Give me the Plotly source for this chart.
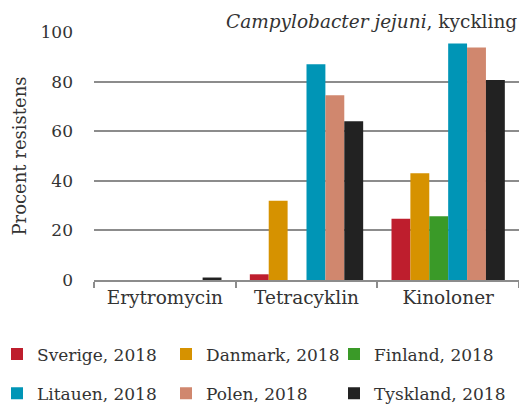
import plotly.graph_objects as go

categories = ["Erytromycin", "Tetracyklin", "Kinoloner"]
series_names = ["Sverige, 2018", "Danmark, 2018", "Finland, 2018",
                "Litauen, 2018", "Polen, 2018", "Tyskland, 2018"]
sverige = [0, 2.3, 24.7]
danmark = [0, 32, 43]
finland = [0, 0, 25.7]
litauen = [0, 87, 95.4]
polen = [0, 74.5, 93.8]
tyskland = [1, 64, 80.6]
values = [sverige, danmark, finland, litauen, polen, tyskland]
colors = ["#BE1E2D", "#D69200", "#3A9A28", "#0095B6", "#D0876E", "#222222"]
y_ticks = [0, 20, 40, 60, 80, 100]

FONT = "DejaVu Serif"
TXT = "#333333"

L, T, B, W, H = 94, 32, 124, 519, 404
PW, PH = W - L, H - T - B
LEG_IDS = ["legend", "legend2", "legend3"]
LEG_X = [-3, 166, 334]

fig = go.Figure()
for i, (name, vals, col) in enumerate(zip(series_names, values, colors)):
    fig.add_trace(go.Bar(name=name, x=categories, y=vals, marker_color=col,
                         marker_line_width=0, legendgroup=str(i),
                         legend=LEG_IDS[i % 3]))

legends = {}
for lid, lx in zip(LEG_IDS, LEG_X):
    legends[lid] = dict(orientation="v", xref="paper", yref="paper",
                        x=(lx - L) / PW, y=(T + PH - 374) / PH,
                        xanchor="left", yanchor="middle",
                        itemwidth=30, tracegroupgap=14,
                        font=dict(family=FONT, size=17, color=TXT),
                        bgcolor="rgba(0,0,0,0)")

fig.update_layout(
    width=W, height=H,
    margin=dict(l=L, r=0, t=T, b=B, autoexpand=False),
    paper_bgcolor="white", plot_bgcolor="white",
    barmode="group", bargap=0.2, bargroupgap=0,
    font=dict(family=FONT, size=17, color=TXT),
    showlegend=True,
    annotations=[dict(text="<i>Campylobacter jejuni</i>, kyckling",
                      xref="paper", yref="paper", x=1.0, y=1.0,
                      xanchor="right", yanchor="bottom", showarrow=False,
                      font=dict(family=FONT, size=18.5, color=TXT), yshift=-2)],
    **legends,
)
fig.update_xaxes(showline=True, linecolor="#8c8c8c", linewidth=2,
                 ticks="outside", tickson="boundaries", ticklen=6,
                 tickcolor="#8c8c8c", tickwidth=2,
                 tickfont=dict(family=FONT, size=18.5, color=TXT))
fig.update_yaxes(range=[0, 100], tickvals=y_ticks, showgrid=True,
                 gridcolor="#8c8c8c", gridwidth=2, zeroline=False,
                 ticks="", ticklabelstandoff=20,
                 title=dict(text="Procent resistens", standoff=9,
                            font=dict(family=FONT, size=18, color=TXT)),
                 tickfont=dict(family=FONT, size=17, color=TXT))

fig.write_html("out.html", config={"displayModeBar": False},
               post_script="document.body.style.margin='0';")
